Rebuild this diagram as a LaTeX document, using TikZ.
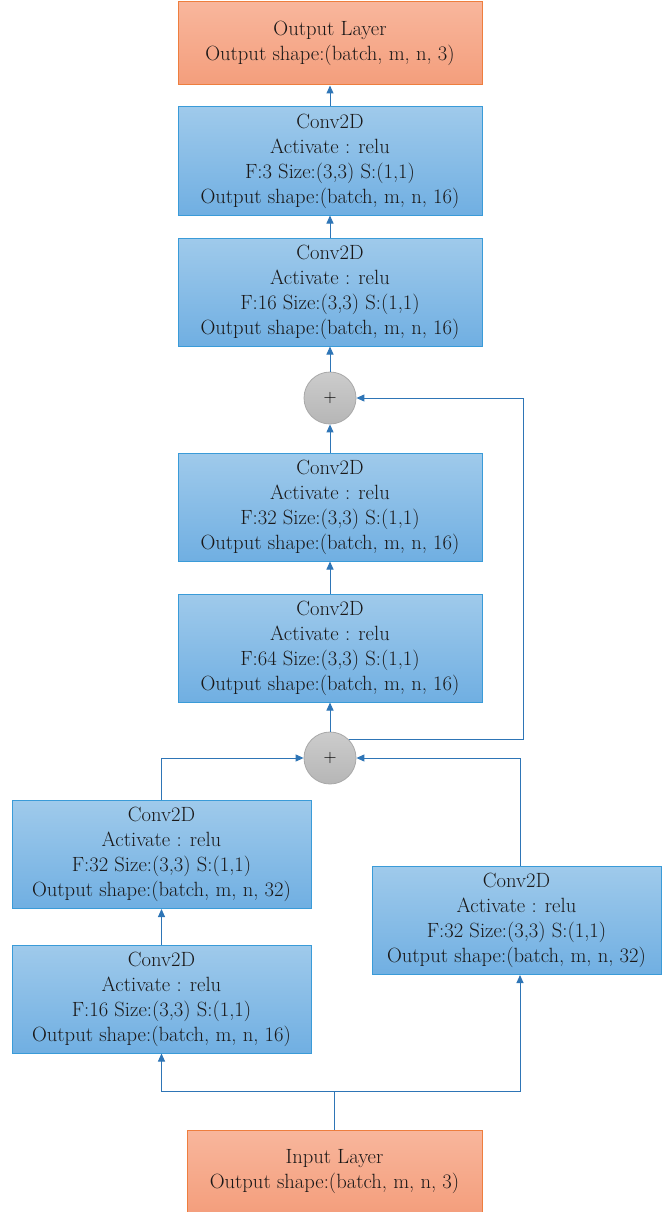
\documentclass[tikz,border=0pt]{standalone}
\usepackage{fontspec}
\usetikzlibrary{arrows.meta}
\definecolor{orT}{HTML}{F8B69C}
\definecolor{orB}{HTML}{F49E7C}
\definecolor{orD}{HTML}{EE7E3E}
\definecolor{blT}{HTML}{9FCAEB}
\definecolor{blB}{HTML}{70AFE2}
\definecolor{blD}{HTML}{3A9BD8}
\definecolor{lnC}{HTML}{2E75B6}
\definecolor{gyT}{HTML}{CCCCCC}
\definecolor{gyB}{HTML}{B6B6B6}
\definecolor{gyD}{HTML}{A8A8A8}
\definecolor{txC}{HTML}{1A1818}
\begin{document}
\begin{tikzpicture}[x=1pt,y=-1pt,
  boxtext/.style={align=center, inner sep=0pt, text=txC, font=\fontsize{20.6}{25}\selectfont},
  layerbox/.style={boxtext, draw=orD, line width=1pt, top color=orT, bottom color=orB},
  convbox/.style={boxtext, draw=blD, line width=1pt, top color=blT, bottom color=blB, minimum height=108pt},
  addnode/.style={circle, draw=gyD, line width=0.8pt, top color=gyT, bottom color=gyB, minimum size=52pt, inner sep=0pt, text=black, font=\fontsize{18}{18}\selectfont},
  wire/.style={draw=lnC, line width=1pt},
  arr/.style={wire, -{Triangle[length=8pt,width=7pt]}}
]
\useasboundingbox (0,0) rectangle (662,1212);

\node[layerbox, minimum width=304pt, minimum height=83pt] (out) at (330,43.5) {Output Layer\\Output shape:(batch, m, n, 3)};
\node[convbox, minimum width=304pt] (A) at (330,161) {Conv2D\\Activate : relu\\F:3 Size:(3,3) S:(1,1)\\Output shape:(batch, m, n, 16)};
\node[convbox, minimum width=304pt] (B) at (330,292) {Conv2D\\Activate : relu\\F:16 Size:(3,3) S:(1,1)\\Output shape:(batch, m, n, 16)};
\node[addnode] (p1) at (330,398) {+};
\node[convbox, minimum width=304pt] (C) at (330,507) {Conv2D\\Activate : relu\\F:32 Size:(3,3) S:(1,1)\\Output shape:(batch, m, n, 16)};
\node[convbox, minimum width=304pt] (D) at (330,648) {Conv2D\\Activate : relu\\F:64 Size:(3,3) S:(1,1)\\Output shape:(batch, m, n, 16)};
\node[addnode] (p2) at (330,758) {+};
\node[convbox, minimum width=299pt] (E) at (161.5,854.5) {Conv2D\\Activate : relu\\F:32 Size:(3,3) S:(1,1)\\Output shape:(batch, m, n, 32)};
\node[convbox, minimum width=299pt] (F) at (161.5,999) {Conv2D\\Activate : relu\\F:16 Size:(3,3) S:(1,1)\\Output shape:(batch, m, n, 16)};
\node[convbox, minimum width=289pt] (G) at (516.5,920.5) {Conv2D\\Activate : relu\\F:32 Size:(3,3) S:(1,1)\\Output shape:(batch, m, n, 32)};
\node[layerbox, minimum width=295pt, minimum height=84pt] (in) at (334.5,1172) {Input Layer\\Output shape:(batch, m, n, 3)};

\coordinate (jn) at (334.5,1091);
\coordinate (skx) at (523,398);

\draw[wire] (in.north) -- (jn);
\draw[arr] (jn) -| (F.south);
\draw[arr] (jn) -| ([xshift=3.5pt]G.south);
\draw[arr] (F.north) -- (E.south);
\draw[arr] (E.north) |- (p2.west);
\draw[arr] ([xshift=3.5pt]G.north) |- (p2.east);
\draw[arr] (p2.north) -- (D.south);
\draw[arr] (p2.45) -| (skx) -- (p1.east);
\draw[arr] (D.north) -- (C.south);
\draw[arr] (C.north) -- (p1.south);
\draw[arr] (p1.north) -- (B.south);
\draw[arr] (B.north) -- (A.south);
\draw[arr] (A.north) -- (out.south);
\end{tikzpicture}
\end{document}
